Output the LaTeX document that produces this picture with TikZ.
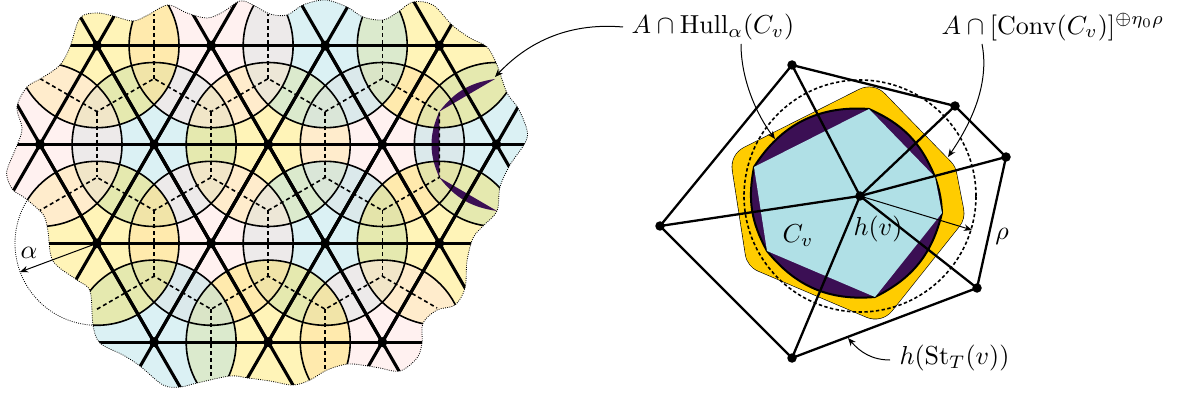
\documentclass[tikz,border=0pt]{standalone}
\usepackage{amsmath}
\usetikzlibrary{arrows.meta,calc}
\definecolor{goldc}{HTML}{FFCC00}
\definecolor{yelc}{HTML}{FFD700}
\definecolor{pinkc}{HTML}{FFE4E1}
\definecolor{bluec}{HTML}{B0E0E6}
\definecolor{purp}{HTML}{3B0F54}
\tikzset{
  x=1pt,y=-1pt,
  Yfill/.style={fill=yelc,fill opacity=.28},
  Pfill/.style={fill=pinkc,fill opacity=.5},
  Bfill/.style={fill=bluec,fill opacity=.46},
  latline/.style={line width=3.1pt,black,shorten >=-120pt,shorten <=-120pt},
  arcline/.style={line width=1.6pt,black},
  dual/.style={line width=1.6pt,black,dash pattern=on 4pt off 3pt},
  vdot/.style={circle,fill=black,inner sep=0pt,minimum size=10pt},
  sdot/.style={circle,fill=black,inner sep=0pt,minimum size=9.5pt},
  hairdot/.style={line width=.8pt,black,dash pattern=on .9pt off 1.3pt},
  star/.style={line width=2.3pt,black,line join=miter},
  lab/.style={scale=2.6,inner sep=0pt},
  thinarrow/.style={line width=1pt,black,-{Stealth[length=8pt,width=6.5pt,inset=2.5pt]}},
}
\begin{document}
\begin{tikzpicture}
\useasboundingbox (0,0) rectangle (1189,398);
% lattice
\coordinate (Y1) at (97,45.7); \coordinate (P1) at (211.1,45.7); \coordinate (B1) at (325.2,45.7); \coordinate (Y2) at (439.3,45.7);
\coordinate (P2) at (40,144.5); \coordinate (B2) at (154.1,144.5); \coordinate (Y3) at (268.2,144.5); \coordinate (P3) at (382.3,144.5); \coordinate (B3) at (496.4,144.5);
\coordinate (Y4) at (97,243.3); \coordinate (P4) at (211.1,243.3); \coordinate (B4) at (325.2,243.3); \coordinate (Y5) at (439.3,243.3);
\coordinate (B5) at (154.1,342.1); \coordinate (Y6) at (268.2,342.1); \coordinate (P5) at (382.3,342.1);
% dual
\coordinate (a0) at (40,78.6); \coordinate (a1) at (97,111.6); \coordinate (a2) at (154.1,78.6); \coordinate (a3) at (211.1,111.6); \coordinate (a4) at (268.2,78.6); \coordinate (a5) at (325.2,111.6); \coordinate (a6) at (382.3,78.6); \coordinate (a7) at (439.3,111.6);
\coordinate (b0) at (40,210.4); \coordinate (b1) at (97,177.4); \coordinate (b2) at (154.1,210.4); \coordinate (b3) at (211.1,177.4); \coordinate (b4) at (268.2,210.4); \coordinate (b5) at (325.2,177.4); \coordinate (b6) at (382.3,210.4); \coordinate (b7) at (439.3,177.4);
\coordinate (c1) at (97,309.2); \coordinate (c2) at (154.1,276.2); \coordinate (c3) at (211.1,309.2); \coordinate (c4) at (268.2,276.2); \coordinate (c5) at (325.2,309.2); \coordinate (c6) at (382.3,276.2); \coordinate (c7) at (437,308);
\coordinate (t2) at (154.1,14); \coordinate (t4) at (268.2,14); \coordinate (t6) at (382.3,19);
\coordinate (d3) at (211.1,377); \coordinate (d5) at (325.2,371);
\coordinate (T1) at (495,79); \coordinate (T2) at (497,211);
\def\blob{plot[smooth cycle,tension=.55] coordinates{(80,18)(97,13)(113,16)(133,21)(148,15)(168,5)(187,13)(207,18)(223,12)(240,1)(253,5)(270,14)(287,15)(303,5)(325,0)(347,7)(363,17)(383,20)(398,12)(413,2)(433,5)(452,25)(470,38)(487,47)(497,65)(507,93)(518,108)(527,130)(525,143)(510,165)(500,187)(497,211)(483,226)(473,238)(467,261)(465,288)(455,305)(437,310)(423,323)(422,343)(417,358)(400,371)(380,368)(368,366)(348,364)(327,370)(310,380)(293,385)(270,381)(248,378)(230,376)(197,383)(180,387)(163,385)(140,366)(123,355)(100,343)(93,325)(90,291)(77,280)(53,261)(48,231)(45,218)(40,211)(25,198)(13,190)(7,177)(8,167)(18,143)(22,128)(17,107)(27,87)(42,78)(60,65)(70,47)}}
\begin{scope}
\clip \blob;
\foreach \v/\s in {B2/B,Y3/Y,P3/P,B3/B,Y2/Y,B1/B,P1/P,Y1/Y,B4/B,P4/P,Y5/Y,P5/P,Y6/Y,B5/B,Y4/Y,P2/P}
  \fill[\s fill] (\v) circle[radius=82pt];
\fill[purp] (T1) to[bend right=22] (a7) to[bend right=24] (b7) to[bend right=22] (T2) -- (b7) -- (a7) -- cycle;
\foreach \v in {B2,Y3,P3,B3,Y2,B1,P1,Y1,B4,P4,Y5,P5,Y6,B5,Y4,P2}
  \draw[arcline] (\v) circle[radius=82pt];
\draw[dual] (a0)--(a1)--(a2)--(a3)--(a4)--(a5)--(a6)--(a7)--(b7)--(b6)--(b5)--(b4)--(b3)--(b2)--(b1)--(b0);
\draw[dual] (a1)--(b1); \draw[dual] (a3)--(b3); \draw[dual] (a5)--(b5);
\draw[dual] (a2)--(t2); \draw[dual] (a4)--(t4); \draw[dual] (a6)--(t6);
\draw[dual] (b2)--(c2); \draw[dual] (b4)--(c4); \draw[dual] (b6)--(c6);
\draw[dual] (c1)--(c2)--(c3)--(c4)--(c5)--(c6)--(c7);
\draw[dual] (c3)--(d3); \draw[dual] (c5)--(d5);
\foreach \p/\q in {Y1/P1,P1/B1,B1/Y2,P2/B2,B2/Y3,Y3/P3,P3/B3,Y4/P4,P4/B4,B4/Y5,B5/Y6,Y6/P5,
  Y1/P2,Y1/B2,P1/B2,P1/Y3,B1/Y3,B1/P3,Y2/P3,Y2/B3,
  P2/Y4,B2/Y4,B2/P4,Y3/P4,Y3/B4,P3/B4,P3/Y5,B3/Y5,
  Y4/B5,P4/B5,P4/Y6,B4/Y6,B4/P5,Y5/P5}
  \draw[latline] (\p)--(\q);
\end{scope}
\draw[hairdot] \blob;
\foreach \v in {Y1,P1,B1,Y2,P2,B2,Y3,P3,B3,Y4,P4,B4,Y5,B5,Y6,P5}
  \node[vdot] (n\v) at (\v) {};
% alpha
\coordinate (alphaTip) at (20,272);
\begin{scope}
\clip (Y4) -- (89,400) -- (-20,400) -- (-20,170) -- cycle;
\draw[hairdot] (Y4) circle[radius=82pt];
\end{scope}
\draw[thinarrow] (nY4.center) -- (alphaTip);
\node[lab] (alpha) at (29,253) {$\alpha$};
% right figure
\coordinate (c) at (860,196);
\coordinate (o1) at (792,65); \coordinate (o2) at (955,106); \coordinate (o3) at (1006,157); \coordinate (o4) at (977,288); \coordinate (o5) at (792,358); \coordinate (o6) at (660,226);
\coordinate (p1) at (754,167); \coordinate (p2) at (869,109); \coordinate (p3) at (935,177); \coordinate (p4) at (942,213); \coordinate (p5) at (875,297); \coordinate (p6) at (767,251);
\draw[black,line width=44.6pt,line join=round] (p1)--(p2)--(p3)--(p4)--(p5)--(p6)--cycle;
\draw[goldc,fill=goldc,line width=43.4pt,line join=round] (p1)--(p2)--(p3)--(p4)--(p5)--(p6)--cycle;
\filldraw[fill=purp,draw=black,line width=2pt] (p1) to[bend left=31] (p2) to[bend left=22] (p3) to[bend left=8] (p4) to[bend left=25] (p5) to[bend left=28] (p6) to[bend left=20] cycle;
\fill[bluec] (p1)--(p2)--(p3)--(p4)--(p5)--(p6)--cycle;
\draw[line width=1.6pt,dash pattern=on 3.4pt off 2.4pt] (c) circle[radius=116pt];
\draw[star] (o1)--(o2)--(o3)--(o4)--(o5)--(o6)--cycle;
\foreach \o in {o1,o2,o3,o4,o5,o6} \draw[star] (c)--(\o);
\foreach \o in {o1,o2,o3,o4,o5,o6,c} \node[sdot] (n\o) at (\o) {};
\coordinate (rhoTip) at (972,230);
\draw[thinarrow] (nc.center) -- (rhoTip);
\node[lab] (cv) at (798,236) {$C_v$};
\node[lab] (hv) at (878,229) {$h(v)$};
\node[lab] (rho) at (1002,236) {$\rho$};
\node[lab,anchor=west] (hull) at (631,27) {$A\cap\mathrm{Hull}_\alpha(C_v)$};
\node[lab,anchor=west] (conv) at (941,27) {$A\cap[\mathrm{Conv}(C_v)]^{\oplus\eta_0\rho}$};
\node[lab,anchor=west] (hst) at (899,358) {$h(\mathrm{St}_T(v))$};
\coordinate (tipA) at (495,77); \coordinate (tipB) at (775,139); \coordinate (tipC) at (948,157); \coordinate (tipD) at (848,338);
\draw[thinarrow] (hull.west) ++(-8,0) .. controls (565,22) and (525,45) .. (tipA);
\draw[thinarrow] (741,44) .. controls (741,80) and (757,115) .. (tipB);
\draw[thinarrow] (982,44) .. controls (990,85) and (970,125) .. (tipC);
\draw[thinarrow] (hst.west) ++(-9,2) .. controls (872,360) and (860,352) .. (tipD);
\end{tikzpicture}
\end{document}
